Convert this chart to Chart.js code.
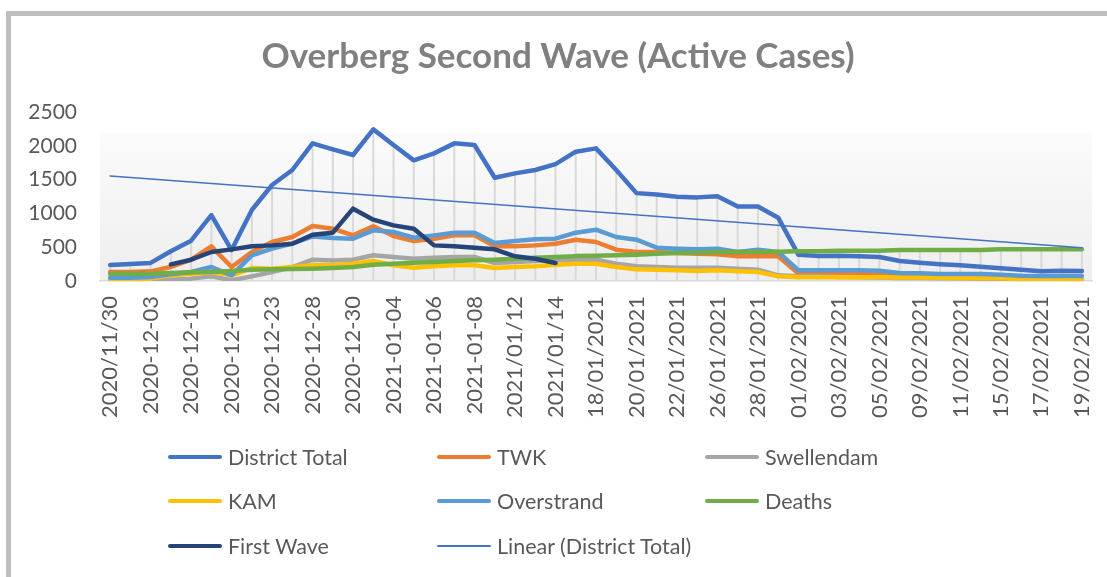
<!DOCTYPE html>
<html>
<head>
<meta charset="utf-8">
<title>Overberg Second Wave (Active Cases)</title>
<script src="https://cdn.jsdelivr.net/npm/chart.js@4.4.1/dist/chart.umd.min.js"></script>
<style>
    html, body { margin: 0; padding: 0; background: #fff; }
    #wrap { position: relative; width: 1107px; height: 577px; overflow: hidden; }
    #frame {
        position: absolute; left: 6px; top: 11px; width: 1200px; height: 700px;
        border-left: 5px solid #bfbfbf; border-top: 5px solid #bfbfbf;
    }
    #chart { position: absolute; left: 0; top: 0; }
    #legend { position: absolute; left: 0; top: 0; width: 1107px; height: 577px; pointer-events: none; }
    .item {
        position: absolute; display: flex; align-items: center; height: 30px;
        font-family: Lato, sans-serif; font-size: 21.5px; color: #595959; white-space: nowrap;
    }
    .item .swatch { width: 54px; border-radius: 3px; margin-right: 6px; }
</style>
</head>
<body>
<div id="wrap">
    <div id="frame"></div>
    <canvas id="chart" width="1107" height="577"></canvas>
    <div id="legend"></div>
</div>
<script>
// categories (only every other one is labelled on the axis)
const categories = [
    '2020/11/30', '2020/12/01', '2020-12-03', '2020-12-08', '2020-12-10', '2020-12-14', '2020-12-15',
    '2020-12-21', '2020-12-23', '2020-12-24', '2020-12-28', '2020-12-29', '2020-12-30', '2020-12-31',
    '2021-01-04', '2021-01-05', '2021-01-06', '2021-01-07', '2021-01-08', '2021/01/11', '2021/01/12',
    '2021/01/13', '2021/01/14', '2021/01/15', '18/01/2021', '19/01/2021', '20/01/2021', '21/01/2021',
    '22/01/2021', '25/01/2021', '26/01/2021', '27/01/2021', '28/01/2021', '29/01/2021', '01/02/2020',
    '02/02/2021', '03/02/2021', '04/02/2021', '05/02/2021', '08/02/2021', '09/02/2021', '10/02/2021',
    '11/02/2021', '12/02/2021', '15/02/2021', '16/02/2021', '17/02/2021', '18/02/2021', '19/02/2021'
];

const districtTotal = [
    237, 251, 268, 439, 597, 976, 458, 1050, 1420, 1642, 2036, 1947, 1864, 2243, 2011, 1785, 1888,
    2036, 2011, 1528, 1592, 1642, 1730, 1913, 1962, 1642, 1300, 1280, 1245, 1237, 1255, 1102, 1102,
    937, 387, 370, 375, 365, 355, 295, 270, 248, 232, 212, 190, 168, 143, 150, 148
];
const twk = [
    133, 133, 143, 207, 315, 513, 207, 429, 577, 651, 813, 774, 675, 809, 666, 592, 626,
    675, 675, 513, 513, 527, 552, 611, 577, 463, 429, 429, 414, 404, 394, 365, 365,
    365, 110, 108, 103, 103, 98, 64, 64, 54, 54, 49, 39, 30, 25, 25, 25
];
const swellendam = [
    5, 5, 5, 20, 35, 69, 10, 69, 133, 207, 315, 305, 315, 380, 355, 330, 345,
    355, 355, 266, 281, 296, 306, 316, 316, 256, 217, 207, 197, 197, 197, 182, 168,
    84, 69, 69, 60, 55, 50, 45, 45, 40, 40, 35, 30, 25, 20, 20, 15
];
const kam = [
    25, 25, 35, 84, 108, 133, 84, 192, 182, 207, 232, 232, 256, 296, 232, 197, 217,
    232, 232, 192, 207, 217, 242, 256, 256, 207, 172, 168, 158, 148, 158, 143, 133,
    69, 55, 55, 55, 55, 55, 50, 50, 48, 45, 42, 39, 30, 25, 22, 20
];
const overstrand = [
    49, 49, 59, 99, 133, 207, 84, 380, 478, 552, 660, 636, 626, 749, 725, 641, 675,
    715, 715, 562, 592, 616, 626, 715, 759, 651, 611, 493, 478, 468, 478, 429, 463,
    429, 158, 158, 158, 158, 153, 118, 113, 103, 103, 103, 93, 79, 74, 74, 74
];
const deaths = [
    108, 108, 108, 118, 128, 133, 148, 168, 172, 177, 182, 192, 207, 242, 256, 271, 281,
    296, 306, 316, 330, 345, 355, 368, 372, 380, 389, 404, 414, 419, 429, 429, 429,
    434, 439, 439, 449, 449, 449, 458, 458, 458, 458, 458, 468, 468, 468, 468, 468
];
const firstWave = [
    null, null, null, 246, 315, 429, 468, 513, 527, 552, 685, 715, 1070, 907, 823, 774, 527,
    513, 493, 468, 365, 330, 266, null, null, null, null, null, null, null, null, null, null,
    null, null, null, null, null, null, null, null, null, null, null, null, null, null, null, null
];
// Linear (District Total): end points
const trendLine = categories.map(() => null);
trendLine[0] = 1553;
trendLine[categories.length - 1] = 493;

const yTicks = [0, 500, 1000, 1500, 2000, 2500];

// gradient fill of the plot area
const plotBackground = {
    id: 'plotBackground',
    beforeDraw(chart) {
        const { ctx, chartArea: a } = chart;
        const g = ctx.createLinearGradient(0, a.top, 0, a.bottom);
        g.addColorStop(0, '#ffffff');
        g.addColorStop(0.12, '#ffffff');
        g.addColorStop(0.125, '#fbfbfb');
        g.addColorStop(1, '#eeeeee');
        ctx.save();
        ctx.fillStyle = g;
        ctx.fillRect(a.left, a.top, a.right - a.left, a.bottom - a.top);
        ctx.restore();
    }
};

// excel style drop lines: from the highest point of each category down to the axis
const dropLines = {
    id: 'dropLines',
    beforeDatasetsDraw(chart) {
        const { ctx, chartArea } = chart;
        const metas = chart.data.datasets
            .map((d, i) => chart.getDatasetMeta(i))
            .filter(m => !chart.data.datasets[m.index].isTrend);
        ctx.save();
        ctx.strokeStyle = '#d9d9d9';
        ctx.lineWidth = 2;
        for (let i = 0; i < categories.length; i++) {
            let top = null, x = null;
            metas.forEach(m => {
                const p = m.data[i];
                if (!p || p.skip) return;
                if (top === null || p.y < top) { top = p.y; x = p.x; }
            });
            if (top === null) continue;
            ctx.beginPath();
            ctx.moveTo(x, top);
            ctx.lineTo(x, chartArea.bottom);
            ctx.stroke();
        }
        ctx.restore();
    }
};

function series(label, data, color, order, extra) {
    return Object.assign({
        label: label,
        data: data,
        borderColor: color,
        backgroundColor: color,
        borderWidth: 4.5,
        borderCapStyle: 'round',
        borderJoinStyle: 'round',
        pointRadius: 0,
        pointHoverRadius: 0,
        tension: 0,
        fill: false,
        order: order
    }, extra || {});
}

function buildLegend(chart) {
    const box = document.getElementById('legend');
    const colX = [168, 437, 705];
    const rowY = [457, 501, 546];
    chart.data.datasets.forEach((ds, i) => {
        const item = document.createElement('div');
        item.className = 'item';
        item.style.left = colX[i % 3] + 'px';
        item.style.top = (rowY[Math.floor(i / 3)] - 15) + 'px';
        const sw = document.createElement('span');
        sw.className = 'swatch';
        sw.style.background = ds.borderColor;
        sw.style.height = (ds.isTrend ? 2 : 4.5) + 'px';
        const txt = document.createElement('span');
        txt.textContent = ds.label;
        item.appendChild(sw);
        item.appendChild(txt);
        box.appendChild(item);
    });
}

function draw() {
    Chart.defaults.font.family = 'Lato, sans-serif';
    Chart.defaults.color = '#595959';

    const ctx = document.getElementById('chart').getContext('2d');
    const chart = new Chart(ctx, {
        type: 'line',
        data: {
            labels: categories,
            datasets: [
                series('District Total', districtTotal, '#4472c4', 7),
                series('TWK', twk, '#ed7d31', 6),
                series('Swellendam', swellendam, '#a5a5a5', 5),
                series('KAM', kam, '#ffc000', 4),
                series('Overstrand', overstrand, '#5b9bd5', 3),
                series('Deaths', deaths, '#70ad47', 2),
                series('First Wave', firstWave, '#264478', 1),
                series('Linear (District Total)', trendLine, '#4472c4', 0,
                    { borderWidth: 1.5, spanGaps: true, isTrend: true })
            ]
        },
        options: {
            responsive: false,
            animation: false,
            layout: { padding: { left: 24, right: 15, top: 0, bottom: 0 } },
            plugins: {
                legend: { display: false },
                tooltip: { enabled: false },
                title: {
                    display: true,
                    text: 'Overberg Second Wave (Active Cases)',
                    color: '#808080',
                    font: { size: 35, weight: 'bold' },
                    padding: { top: 36, bottom: 34 }
                }
            },
            scales: {
                x: {
                    offset: true,
                    grid: { display: false, drawTicks: false },
                    border: { display: true, color: '#d9d9d9', width: 1.5 },
                    ticks: {
                        autoSkip: false,
                        maxRotation: 90,
                        minRotation: 90,
                        padding: 15,
                        font: { size: 22 },
                        color: '#595959',
                        callback: function(value, index) {
                            return index % 2 === 0 ? categories[index] : '';
                        }
                    },
                    afterFit: function(scale) {
                        scale.height = 296;
                        scale.paddingLeft = 0;
                        scale.paddingRight = 0;
                    }
                },
                y: {
                    min: yTicks[0],
                    max: yTicks[yTicks.length - 1],
                    grid: { display: false, drawTicks: false },
                    border: { display: false },
                    afterBuildTicks: function(scale) {
                        scale.ticks = yTicks.map(v => ({ value: v }));
                    },
                    ticks: {
                        padding: 23,
                        font: { size: 21 },
                        color: '#595959',
                        callback: function(value) { return String(value); }
                    },
                    afterFit: function(scale) { scale.width = 76; }
                }
            }
        },
        plugins: [plotBackground, dropLines]
    });
    buildLegend(chart);
}

document.fonts.load('21px Lato').then(draw, draw);
</script>
</body>
</html>
